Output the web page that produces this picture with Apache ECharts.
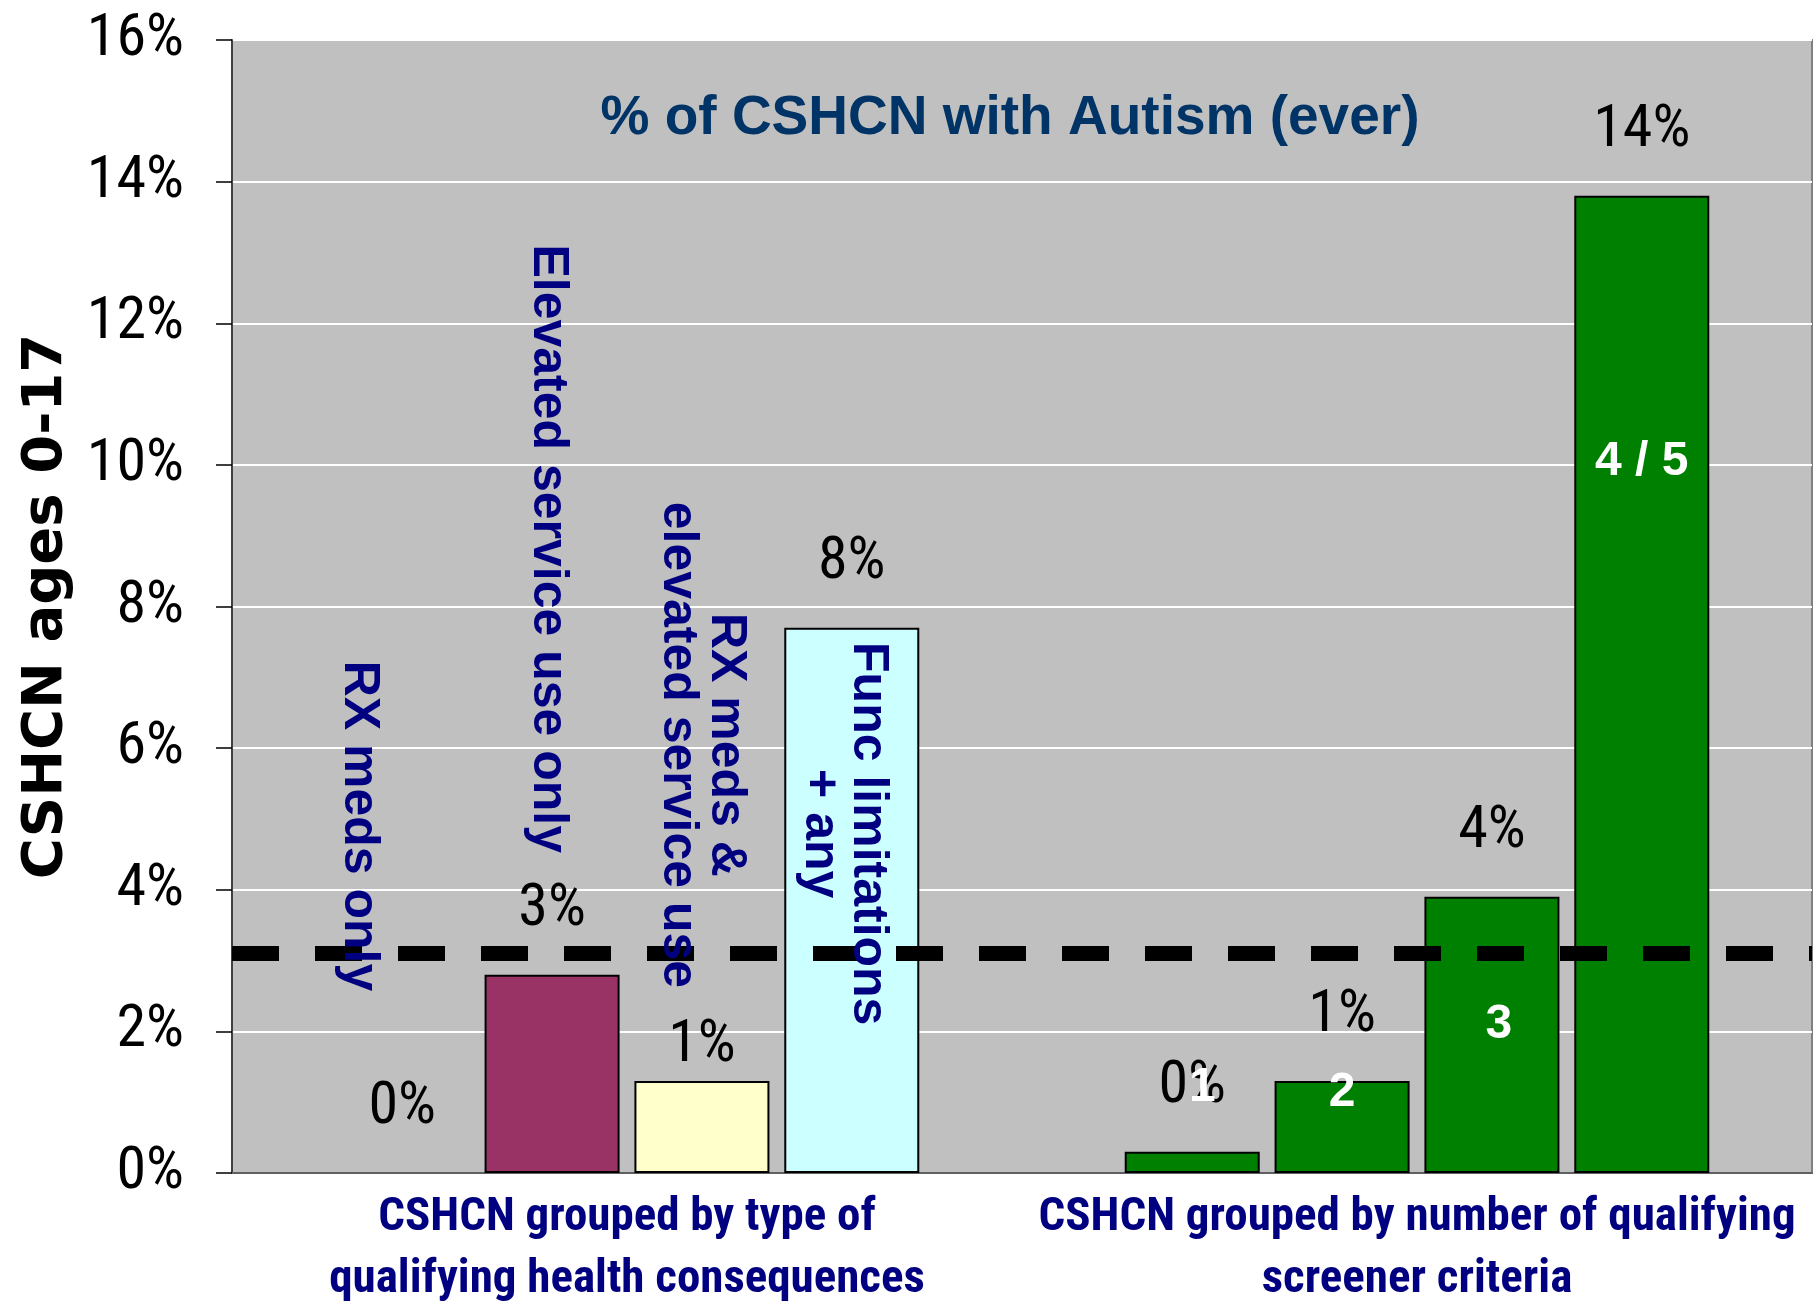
<!DOCTYPE html>
<html>
<head>
<meta charset="utf-8">
<script src="https://cdn.jsdelivr.net/npm/echarts@6/dist/echarts.min.js"></script>
<style>
html,body{margin:0;padding:0;background:#ffffff;}
#chart{width:1814px;height:1309px;}
</style>
</head>
<body>
<div id="chart"></div>
<script>
// ---------- data ----------
const categories = [
  'CSHCN grouped by type of\nqualifying health consequences',
  'CSHCN grouped by number of qualifying\nscreener criteria'
];
const seriesNames = [
  'RX meds only',
  'Elevated service use only',
  'RX meds &\nelevated service use',
  'Func limitations\n+ any'
];
const criteriaLabels = ['1', '2', '3', '4 / 5'];
const rxMedsOnly        = [0.0, 0.3];
const elevatedOnly      = [2.8, 1.3];
const rxAndElevated     = [1.3, 3.9];
const funcLimitations   = [7.7, 13.8];
const overallRate = 3.1;
const yMin = 0, yMax = 16, yInterval = 2;
const chartTitle = '% of CSHCN with Autism (ever)';
const yAxisTitle = 'CSHCN ages 0-17';

// ---------- styling ----------
const NARROW = '"Liberation Sans Narrow","Arial Narrow","Roboto Condensed",sans-serif';
const ARIAL = '"Liberation Sans",Arial,sans-serif';
const fills = [
  ['#9999FF', '#008000'],
  ['#993366', '#008000'],
  ['#FFFFCC', '#008000'],
  ['#CCFFFF', '#008000']
];
const pctDistance = [[35, 35], [35, 35], [5, 35], [35, 35]];
// label anchor offsets relative to bar top-centre (dx, dy)
const nameOffsets = [
  [[-43, -347], [10, -64]],
  [[-4, -426], [0, 12]],
  [[0, -336], [7, 128]],
  [[-8, 206], [0, 266]]
];
const BAR_W = 135;

const allValues = [rxMedsOnly, elevatedOnly, rxAndElevated, funcLimitations];

const series = [];
allValues.forEach((vals, i) => {
  series.push({
    type: 'bar',
    name: seriesNames[i],
    xAxisIndex: 0,
    barWidth: BAR_W,
    barGap: '11%',
    z: 2,
    itemStyle: { borderColor: '#000', borderWidth: 2 },
    label: {
      show: true, position: 'top', distance: 35,
      formatter: p => Math.round(p.value) + '%',
      fontFamily: NARROW, fontSize: 60, color: '#000'
    },
    data: vals.map((v, j) => ({
      value: v,
      itemStyle: { color: fills[i][j], borderWidth: v === 0 ? 0 : 2 },
      label: { distance: pctDistance[i][j] }
    }))
  });
});

allValues.forEach((vals, i) => {
  const s = {
    type: 'bar',
    name: seriesNames[i] + ' label',
    xAxisIndex: 1,
    barWidth: BAR_W,
    barGap: '11%',
    silent: true,
    z: 4,
    itemStyle: { color: 'rgba(0,0,0,0)', borderWidth: 0 },
    data: vals.map((v, j) => {
      const off = nameOffsets[i][j];
      if (j === 0) {
        return {
          value: v,
          label: {
            show: true, formatter: seriesNames[i], rotate: -90,
            position: [BAR_W / 2 + off[0], off[1]],
            align: 'center', verticalAlign: 'middle',
            fontFamily: ARIAL, fontWeight: 'bold', fontSize: 50,
            lineHeight: 48, color: '#000080'
          }
        };
      }
      return {
        value: v,
        label: {
          show: true, formatter: criteriaLabels[i], rotate: 0,
          position: [BAR_W / 2 + off[0], off[1]],
          align: 'center', verticalAlign: 'middle',
          fontFamily: ARIAL, fontWeight: 'bold', fontSize: 48, color: '#ffffff'
        }
      };
    })
  };
  if (i === 3) {
    s.markLine = {
      silent: true, symbol: 'none', z: 3,
      label: { show: false },
      lineStyle: { color: '#000', width: 15, type: [47, 36] },
      data: [{ yAxis: overallRate }]
    };
  }
  series.push(s);
});

const chart = echarts.init(document.getElementById('chart'), null, { renderer: 'canvas' });
chart.setOption({
  animation: false,
  backgroundColor: '#ffffff',
  grid: {
    left: 232, right: 2, top: 40, bottom: 136,
    containLabel: false, outerBoundsMode: 'none',
    show: true, backgroundColor: '#C0C0C0', borderColor: '#808080', borderWidth: 2
  },
  graphic: [{
    type: 'text', x: 1010, y: 119, z: 10,
    style: {
      text: chartTitle, align: 'center', verticalAlign: 'middle',
      fontFamily: ARIAL, fontWeight: 'bold', fontSize: 55, fill: '#003366'
    }
  }],
  xAxis: [{
    type: 'category', data: categories,
    axisLine: { show: true, lineStyle: { color: '#606060', width: 2 } },
    axisTick: { show: false },
    axisLabel: {
      interval: 0, margin: 14, fontFamily: NARROW, fontWeight: 'bold',
      fontSize: 47, lineHeight: 62, color: '#000080'
    },
    splitLine: { show: false }
  }, {
    type: 'category', data: categories, show: false
  }],
  yAxis: {
    type: 'value', min: yMin, max: yMax, interval: yInterval,
    name: yAxisTitle, nameLocation: 'middle', nameRotate: 90, nameGap: 158,
    nameTextStyle: { fontFamily: '"DejaVu Sans",sans-serif', fontWeight: 'bold', fontSize: 56, color: '#000' },
    axisLine: { show: true, lineStyle: { color: '#404040', width: 2 } },
    axisTick: { show: true, length: 16, lineStyle: { color: '#000', width: 1.5 } },
    axisLabel: { formatter: '{value}%', margin: 48, fontFamily: NARROW, fontSize: 60, color: '#000' },
    splitLine: { show: true, lineStyle: { color: '#ffffff', width: 2 } }
  },
  series: series
});
</script>
</body>
</html>
